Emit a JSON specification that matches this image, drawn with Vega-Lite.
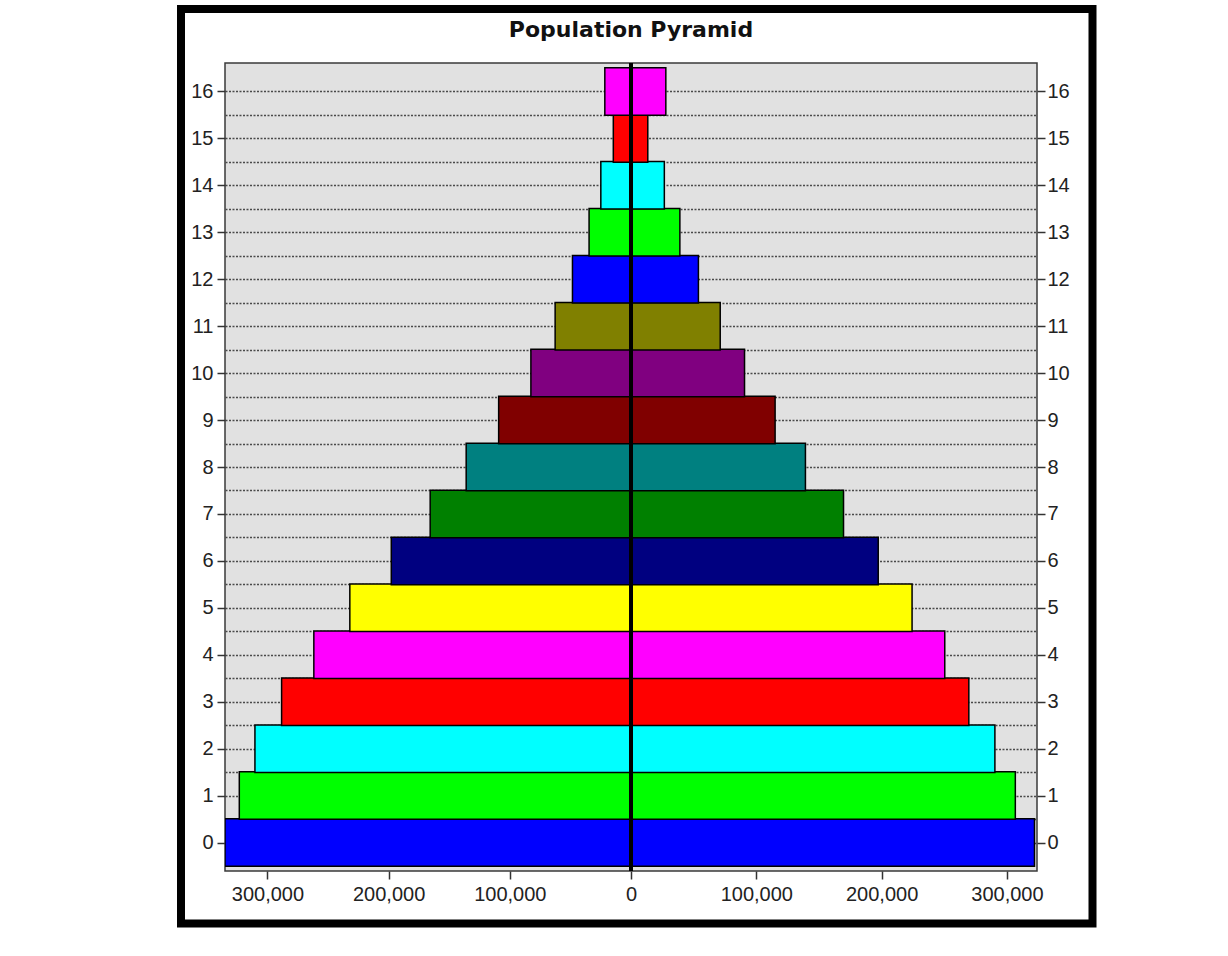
{
  "$schema": "https://vega.github.io/schema/vega-lite/v6.json",
  "width": 812,
  "height": 808,
  "autosize": {"type": "none"},
  "padding": {"left": 225, "top": 63, "right": 191, "bottom": 85},
  "background": "white",
  "title": {
    "text": "Population Pyramid",
    "font": "DejaVu Sans",
    "fontSize": 22,
    "fontWeight": "bold",
    "color": "#111111",
    "anchor": "middle",
    "frame": "group",
    "baseline": "alphabetic",
    "offset": -54
  },
  "view": {"fill": "#e1e1e1", "stroke": "#3a3a3a", "strokeWidth": 1.5},
  "data": {
    "values": [
      {"age": 0, "sex": "Male", "population": 335000},
      {"age": 1, "sex": "Male", "population": 323200},
      {"age": 2, "sex": "Male", "population": 310300},
      {"age": 3, "sex": "Male", "population": 288300},
      {"age": 4, "sex": "Male", "population": 261700},
      {"age": 5, "sex": "Male", "population": 232000},
      {"age": 6, "sex": "Male", "population": 197800},
      {"age": 7, "sex": "Male", "population": 165700},
      {"age": 8, "sex": "Male", "population": 136000},
      {"age": 9, "sex": "Male", "population": 109200},
      {"age": 10, "sex": "Male", "population": 82600},
      {"age": 11, "sex": "Male", "population": 62600},
      {"age": 12, "sex": "Male", "population": 48300},
      {"age": 13, "sex": "Male", "population": 34600},
      {"age": 14, "sex": "Male", "population": 24900},
      {"age": 15, "sex": "Male", "population": 14600},
      {"age": 16, "sex": "Male", "population": 21600},
      {"age": 0, "sex": "Female", "population": 322000},
      {"age": 1, "sex": "Female", "population": 306700},
      {"age": 2, "sex": "Female", "population": 290400},
      {"age": 3, "sex": "Female", "population": 269600},
      {"age": 4, "sex": "Female", "population": 250400},
      {"age": 5, "sex": "Female", "population": 224300},
      {"age": 6, "sex": "Female", "population": 197300},
      {"age": 7, "sex": "Female", "population": 169600},
      {"age": 8, "sex": "Female", "population": 139200},
      {"age": 9, "sex": "Female", "population": 115000},
      {"age": 10, "sex": "Female", "population": 90600},
      {"age": 11, "sex": "Female", "population": 71200},
      {"age": 12, "sex": "Female", "population": 53800},
      {"age": 13, "sex": "Female", "population": 39000},
      {"age": 14, "sex": "Female", "population": 26600},
      {"age": 15, "sex": "Female", "population": 13400},
      {"age": 16, "sex": "Female", "population": 27800}
    ]
  },
  "layer": [
    {
      "data": {"values": [{"frame": "border"}]},
      "mark": {"type": "rect", "fill": "transparent", "stroke": "#000000", "strokeWidth": 8},
      "encoding": {
        "x": {"datum": 0, "type": "quantitative", "scale": {"domain": [0, 1], "range": [-44, 867.5]}, "axis": null},
        "x2": {"datum": 1},
        "y": {"datum": 0, "type": "quantitative", "scale": {"domain": [0, 1], "range": [-54, 860.5]}, "axis": null},
        "y2": {"datum": 1}
      }
    },
    {
      "layer": [
        {
          "transform": [
            {"filter": "datum.sex === 'Male'"},
            {"calculate": "-datum.population", "as": "signed_population"}
          ],
          "mark": {"type": "bar", "height": 47.5, "stroke": "#000000", "strokeWidth": 1.5, "clip": true},
          "encoding": {
            "y": {
              "field": "age",
              "type": "quantitative",
              "scale": {"domain": [-0.5, 16.5], "nice": false, "zero": false},
              "axis": {
                "orient": "left",
                "title": null,
                "values": [0, 0.5, 1, 1.5, 2, 2.5, 3, 3.5, 4, 4.5, 5, 5.5, 6, 6.5, 7, 7.5, 8, 8.5, 9, 9.5, 10, 10.5, 11, 11.5, 12, 12.5, 13, 13.5, 14, 14.5, 15, 15.5, 16],
                "labelExpr": "datum.value % 1 === 0 ? format(datum.value, 'd') : ''",
                "tickOpacity": {"condition": {"test": "datum.value % 1 !== 0", "value": 0}, "value": 1},
                "grid": true,
                "gridColor": "#4a4a4a",
                "gridDash": [2, 1.5],
                "gridWidth": 1.5,
                "domain": false,
                "tickSize": 8,
                "tickColor": "#333333",
                "tickWidth": 1.5,
                "labelFont": "Liberation Sans",
                "labelFontSize": 20,
                "labelColor": "#222222",
                "labelPadding": 4
              }
            },
            "x": {
              "field": "signed_population",
              "type": "quantitative",
              "scale": {"domain": [-335000, 0, 324000], "range": [0, 406, 812], "nice": false, "zero": false},
              "axis": {
                "title": null,
                "values": [-300000, -200000, -100000, 0, 100000, 200000, 300000],
                "labelExpr": "format(abs(datum.value), ',')",
                "grid": false,
                "domain": false,
                "tickSize": 8,
                "tickColor": "#333333",
                "tickWidth": 1.5,
                "labelFont": "Liberation Sans",
                "labelFontSize": 20,
                "labelColor": "#222222",
                "labelPadding": 5
              }
            },
            "x2": {"datum": 0},
            "color": {
              "field": "age",
              "type": "ordinal",
              "scale": {
                "domain": [0, 1, 2, 3, 4, 5, 6, 7, 8, 9, 10, 11, 12, 13, 14, 15, 16],
                "range": ["#0000ff", "#00ff00", "#00ffff", "#ff0000", "#ff00ff", "#ffff00", "#000080", "#008000", "#008080", "#800000", "#800080", "#808000", "#0000ff", "#00ff00", "#00ffff", "#ff0000", "#ff00ff"]
              },
              "legend": null
            }
          }
        },
        {
          "transform": [{"filter": "datum.sex === 'Female'"}],
          "mark": {"type": "bar", "height": 47.5, "stroke": "#000000", "strokeWidth": 1.5, "clip": true},
          "encoding": {
            "y": {
              "field": "age",
              "type": "quantitative",
              "axis": {
                "orient": "right",
                "title": null,
                "values": [0, 1, 2, 3, 4, 5, 6, 7, 8, 9, 10, 11, 12, 13, 14, 15, 16],
                "grid": false,
                "domain": false,
                "tickSize": 8,
                "tickColor": "#333333",
                "tickWidth": 1.5,
                "labelFont": "Liberation Sans",
                "labelFontSize": 20,
                "labelColor": "#222222",
                "labelPadding": 2
              }
            },
            "x": {"field": "population", "type": "quantitative"},
            "x2": {"datum": 0},
            "color": {"field": "age", "type": "ordinal", "legend": null}
          }
        },
        {
          "mark": {"type": "rule", "color": "#000000", "strokeWidth": 3},
          "encoding": {
            "x": {"datum": 0, "type": "quantitative"}
          }
        }
      ],
      "resolve": {"axis": {"y": "independent"}}
    }
  ],
  "resolve": {"scale": {"x": "independent", "y": "independent"}}
}
